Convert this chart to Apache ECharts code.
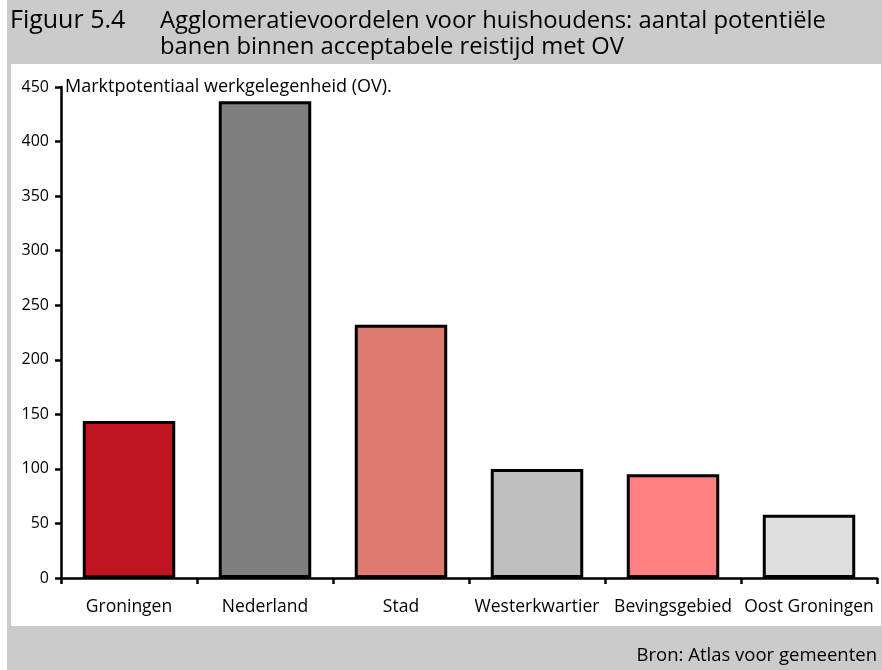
<!DOCTYPE html>
<html>
<head>
<meta charset="utf-8">
<script src="https://cdn.jsdelivr.net/npm/echarts@6/dist/echarts.min.js"></script>
<style>
  html, body { margin: 0; padding: 0; background: #ffffff; }
  #chart { width: 882px; height: 670px; }
</style>
</head>
<body>
<div id="chart"></div>
<script>
// Market potential for jobs reachable by public transport, per region
const categories = ['Groningen', 'Nederland', 'Stad', 'Westerkwartier', 'Bevingsgebied', 'Oost Groningen'];
const values = [144, 437, 232, 100, 95, 58];
const barColors = ['#c1141f', '#7f7f7f', '#de7b71', '#bfbfbf', '#ff8080', '#dedede'];
const yTicks = [0, 50, 100, 150, 200, 250, 300, 350, 400, 450];

const FONT = '"Open Sans", "Noto Sans", sans-serif';
const chart = echarts.init(document.getElementById('chart'), null, { renderer: 'canvas' });

chart.setOption({
  backgroundColor: '#ffffff',
  animation: false,
  graphic: [
    // grey frame with header and footer bands
    { type: 'rect', z: -10, shape: { x: 7, y: 0, width: 875, height: 670 }, style: { fill: '#cbcbcb' } },
    { type: 'rect', z: -9, shape: { x: 11, y: 64, width: 870, height: 562 }, style: { fill: '#ffffff' } }
  ],
  title: [
    {
      text: 'Figuur 5.4', left: 10, top: 7, padding: 0,
      textStyle: { fontFamily: FONT, fontSize: 25, fontWeight: 'normal', color: '#000', lineHeight: 28 }
    },
    {
      text: 'Agglomeratievoordelen voor huishoudens: aantal potentiële\nbanen binnen acceptabele reistijd met OV',
      left: 160, top: 8, padding: 0,
      textStyle: { fontFamily: FONT, fontSize: 23.8, fontWeight: 'normal', color: '#000', lineHeight: 26 }
    },
    {
      text: 'Bron: Atlas voor gemeenten', right: 5, top: 646, padding: 0,
      textStyle: { fontFamily: FONT, fontSize: 18.5, fontWeight: 'normal', color: '#000' }
    }
  ],
  grid: { left: 61, right: 5, top: 87, bottom: 92, containLabel: false },
  xAxis: {
    type: 'category',
    data: categories,
    boundaryGap: true,
    axisLine: { lineStyle: { color: '#000', width: 2.5 } },
    axisTick: { show: true, interval: 0, length: 6, lineStyle: { color: '#000', width: 2.5 } },
    axisLabel: { interval: 0, margin: 20, fontFamily: FONT, fontSize: 17.5, color: '#000' },
    splitLine: { show: false }
  },
  yAxis: {
    type: 'value',
    min: 0, max: 450, interval: 50,
    name: 'Marktpotentiaal werkgelegenheid (OV).',
    nameLocation: 'end',
    nameGap: 0,
    nameTextStyle: { fontFamily: FONT, fontSize: 18, color: '#000', align: 'left', verticalAlign: 'middle', padding: [0, 0, 5, 4] },
    axisLine: { show: true, lineStyle: { color: '#000', width: 2.5 } },
    axisTick: { show: true, length: 6, lineStyle: { color: '#000', width: 2.5 } },
    axisLabel: {
      margin: 12, fontFamily: FONT, fontSize: 16, color: '#000',
      formatter: v => (yTicks.includes(v) ? String(v) : '')
    },
    splitLine: { show: false }
  },
  series: [{
    type: 'bar',
    barWidth: '68%',
    data: values.map((v, i) => ({
      value: v,
      itemStyle: { color: barColors[i], borderColor: '#000', borderWidth: 3 }
    }))
  }]
});
</script>
</body>
</html>
